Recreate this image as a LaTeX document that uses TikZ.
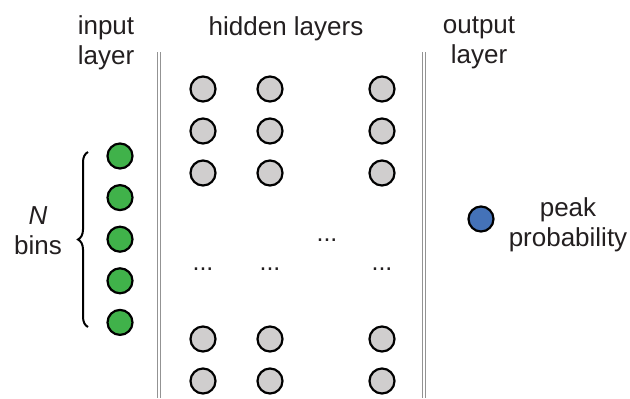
\documentclass[tikz,border=0pt]{standalone}
\usepackage{fontspec}
\setmainfont{Liberation Sans}
\usetikzlibrary{positioning, decorations.pathreplacing}

\definecolor{bincol}{RGB}{64,178,74}
\definecolor{peakcol}{RGB}{68,114,184}
\definecolor{unitcol}{RGB}{208,206,206}
\definecolor{txtcol}{RGB}{35,31,32}

\begin{document}
\begin{tikzpicture}[x=0.5pt, y=-0.5pt,
  unit/.style={circle, draw=black, line width=1.1pt, minimum size=12.5pt,
               inner sep=0pt},
  hid/.style={unit, fill=unitcol},
  bin/.style={unit, fill=bincol},
  outu/.style={unit, fill=peakcol},
  lbl/.style={font=\fontsize{13}{15}\selectfont, text=txtcol,
              align=center, inner sep=0pt},
  skip/.style={font=\fontsize{12.5}{15}\selectfont, text=txtcol,
               inner sep=0pt, anchor=base},
  sep/.style={draw=gray!85, double=white, double distance=1.2pt,
              line width=0.45pt},
  node distance=7.4pt,
]
\useasboundingbox (0,0) rectangle (630,398);

%% ---- Layer headings ----

\node[lbl] (hin)  at (106,43) {input\\layer};
\node[lbl, anchor=base] (hhid) at (286,35) {hidden layers};
\node[lbl] (hout) at (479,43) {output\\layer};

%% ---- Separators ----

\coordinate (sepLtop) at (159,52);
\coordinate (sepLbot) at (159,398);
\coordinate (sepRtop) at (424,52);
\coordinate (sepRbot) at (424,398);
\draw[sep] (sepLtop) -- (sepLbot);
\draw[sep] (sepRtop) -- (sepRbot);

%% ---- Input layer: N bins ----

\node[bin] (b1) at (120,156) {};
\node[bin, below=7.2pt of b1] (b2) {};
\node[bin, below=7.2pt of b2] (b3) {};
\node[bin, below=7.2pt of b3] (b4) {};
\node[bin, below=7.2pt of b4] (b5) {};

\coordinate (brBot) at (88,327);
\coordinate (brTop) at (88,152);
\draw[line width=1pt, decorate, decoration={brace, amplitude=5pt}]
    (brBot) -- (brTop);

\node[lbl] (nbins) at (38,231) {\textit{N}\\bins};

%% ---- Hidden layers ----

% first column
\node[hid] (h1a) at (203,89) {};
\node[hid, below=of h1a] (h1b) {};
\node[hid, below=of h1b] (h1c) {};
\node[skip] (d1) at (203,270) {...};
\node[hid] (h1d) at (203,339) {};
\node[hid, below=of h1d] (h1e) {};

% second column
\node[hid] (h2a) at (270,89) {};
\node[hid, below=of h2a] (h2b) {};
\node[hid, below=of h2b] (h2c) {};
\node[skip] (d2) at (270,270) {...};
\node[hid] (h2d) at (270,339) {};
\node[hid, below=of h2d] (h2e) {};

% further columns left out
\node[skip] (dmid) at (327,241) {...};

% last column
\node[hid] (h3a) at (382,89) {};
\node[hid, below=of h3a] (h3b) {};
\node[hid, below=of h3b] (h3c) {};
\node[skip] (d3) at (382,270) {...};
\node[hid] (h3d) at (382,339) {};
\node[hid, below=of h3d] (h3e) {};

%% ---- Output layer ----

\node[outu] (peak) at (481,219) {};
\node[lbl] (peaklbl) at (568,225) {peak\\probability};

\end{tikzpicture}
\end{document}
